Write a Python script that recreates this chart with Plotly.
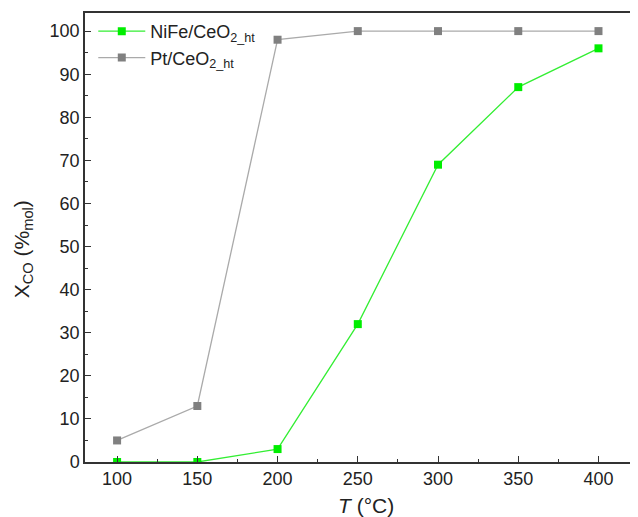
import plotly.graph_objects as go

temps = [100, 150, 200, 250, 300, 350, 400]
nife = [0, 0, 3, 32, 69, 87, 96]
pt = [5, 13, 98, 100, 100, 100, 100]

fig = go.Figure()
fig.add_trace(go.Scatter(x=temps, y=nife, mode="lines+markers",
                         name="NiFe/CeO<sub>2_ht</sub>",
                         line=dict(color="#33ee33", width=1.3),
                         marker=dict(symbol="square", size=8, color="#00ee00")))
fig.add_trace(go.Scatter(x=temps, y=pt, mode="lines+markers",
                         name="Pt/CeO<sub>2_ht</sub>",
                         line=dict(color="#aaaaaa", width=1.3),
                         marker=dict(symbol="square", size=8, color="#808080")))

axis_common = dict(showgrid=False, zeroline=False, showline=True, linecolor="#333333",
                   linewidth=1.5, mirror=True, ticks="inside", ticklen=6, tickwidth=1.2,
                   tickcolor="#333333", automargin=False,
                   tickfont=dict(family="Liberation Sans, Arial", size=18, color="#222222"))

fig.update_xaxes(range=[80, 424], tickvals=temps,
                 minor=dict(ticks="inside", dtick=25, ticklen=3, tickcolor="#333333", tickwidth=1.2),
                 **axis_common)
fig.update_yaxes(range=[0, 104.2], tickvals=list(range(0, 101, 10)),
                 minor=dict(ticks="inside", dtick=5, ticklen=3, tickcolor="#333333", tickwidth=1.2),
                 **axis_common)

title_font = dict(family="Liberation Sans, Arial", size=21, color="#222222")
fig.add_annotation(text="<i>T</i> (°C)", xref="paper", yref="paper", x=0.509, y=-0.096,
                   xanchor="center", yanchor="middle", showarrow=False, font=title_font)
fig.add_annotation(text="X<sub>CO</sub> (%<sub>mol</sub>)", xref="paper", yref="paper",
                   x=-0.112, y=0.474, xanchor="center", yanchor="middle", textangle=-90,
                   showarrow=False, font=title_font)

fig.update_layout(
    width=630, height=509,
    margin=dict(l=77, r=1, t=5, b=55),
    plot_bgcolor="white", paper_bgcolor="white",
    legend=dict(x=0.015, y=1.0, xanchor="left", yanchor="top", bgcolor="rgba(0,0,0,0)",
                font=dict(family="Liberation Sans, Arial", size=18, color="#222222"),
                tracegroupgap=0, itemwidth=47),
)

fig.write_html("out.html")
